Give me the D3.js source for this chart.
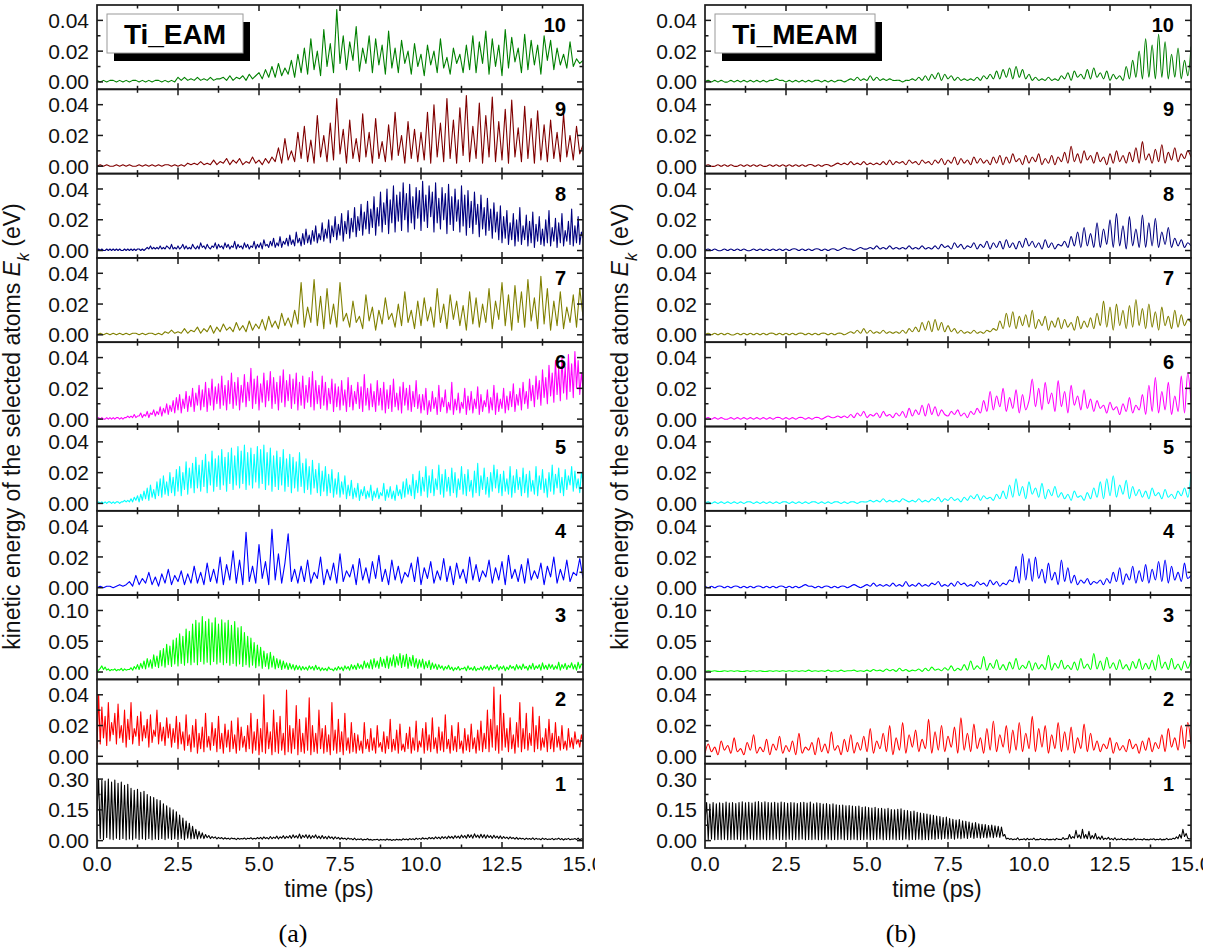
<!DOCTYPE html>
<html lang="en">
<head>
<meta charset="utf-8">
<title>Kinetic energy of selected atoms, Ti_EAM vs Ti_MEAM</title>
<script src="https://d3js.org/d3.v7.min.js"></script>
<style>
  body { margin: 0; background: #fff; }
  text { font-family: Arial, "Liberation Sans", sans-serif; }
</style>
</head>
<body>
<script>
// 151 values = 0.1 ps steps, 301 values = 0.05 ps steps (used for the dense traces)
var eam1 = [150,300,10,295,5,290,15,300,8,285, 5,295,12,280,6,285,10,270,4,275, 8,255,5,245,12,250,6,235,9,240, 5,225,10,215,4,210,8,200,6,195, 10,180,5,170,12,160,6,150,9,140, 6,125,10,110,5,95,12,85,8,70, 10,55,8,45,12,38,10,30,14,25, 10,20,12,18,8,16,10,15,7,14, 8,12,6,13,9,11,5,12,7,10, 8,13,6,12,9,14,7,11,8,15, 9,16,7,18,10,15,8,20,9,17, 11,22,8,19,12,24,10,21,13,25, 11,28,14,24,12,32,10,26,15,29, 12,27,10,24,14,28,11,22,9,25, 10,20,8,22,11,18,7,19,9,16, 6,14,8,12,5,13,7,10,4,12, 3,8,5,9,2,7,4,10,3,6, 2,5,4,7,1,6,3,5,2,8, 3,6,1,5,2,7,3,6,2,9, 4,8,3,10,5,9,4,12,6,11, 6,14,8,12,7,16,9,15,8,18, 10,17,8,20,11,19,9,22,12,21, 10,24,13,22,11,27,14,25,12,30, 15,28,12,33,16,27,13,31,14,29, 12,27,15,24,11,26,13,22,10,23, 9,20,11,17,8,18,10,15,7,16, 6,13,8,11,5,12,7,10,6,13, 5,11,7,9,4,12,6,10,5,8, 6,11,4,9,7,12,5,10,3,9, 6,11,4,8,7,10,5,12,4,9, 6];
var eam2 = [5,40,8,32,12,26,7,35,10,22, 14,28,8,34,12,20,9,30,6,24, 11,35,8,18,13,26,7,29,10,20, 12,24,6,27,9,17,13,30,8,22, 10,19,7,25,12,21,6,18,9,26, 5,22,8,16,4,27,7,14,3,20, 6,24,2,15,5,19,3,28,6,13, 4,22,7,18,3,26,5,15,2,21, 6,17,3,23,5,14,2,25,4,19, 6,13,3,20,5,28,2,16,4,24, 1,18,3,40,2,22,5,16,1,30, 3,22,2,26,4,15,1,43,3,20, 2,18,5,33,1,24,3,15,2,25, 4,38,1,20,3,15,2,30,5,18, 2,20,3,14,1,35,4,17,2,24, 3,16,1,28,4,12,2,22,3,15, 2,14,4,10,2,22,5,11,3,18, 4,12,2,20,6,9,3,16,2,13, 5,24,3,11,4,17,2,21,4,8, 3,15,5,19,2,12,4,23,3,10, 6,18,2,22,4,14,3,25,5,12, 2,19,4,16,3,27,5,11,2,20, 4,13,3,22,5,10,2,18,4,14, 3,21,5,12,2,17,4,23,3,15, 5,30,3,24,6,45,4,20,2,40, 4,28,6,18,3,25,5,14,2,22, 6,35,3,18,5,28,4,15,7,32, 3,20,5,26,4,12,6,18,3,24, 5,15,3,22,6,13,4,20,5,10, 4,18,6,12,5,16,8,11,6,14, 9];
var eam3 = [0,3,6,10,4,8,3,5,2,4, 3,5,2,4,3,6,2,5,3,4, 4,7,3,9,5,12,4,14,6,18, 5,22,8,20,6,28,9,26,7,35, 10,38,8,45,12,42,9,52,13,55, 10,62,14,58,11,70,15,66,12,78, 16,84,12,80,17,90,13,82,16,86, 12,80,17,88,13,78,16,85,12,80, 15,84,11,76,14,82,10,72,13,74, 9,64,12,58,8,55,11,48,7,44, 10,40,6,34,9,30,5,32,8,26, 5,22,7,20,4,18,6,15,4,14, 5,12,3,11,4,10,3,9,4,8, 3,10,5,9,3,11,4,8,2,7, 3,6,2,8,4,5,2,7,3,9, 4,8,2,10,5,9,3,12,5,11, 4,14,6,12,5,18,7,15,6,20, 5,22,8,18,6,24,9,21,7,26, 6,23,10,28,8,25,11,30,7,27, 9,29,6,24,10,27,8,22,6,20, 8,21,5,17,7,19,4,15,6,13, 4,12,6,10,3,9,5,11,4,8, 2,7,4,9,3,6,5,8,2,10, 4,7,3,9,2,6,4,8,3,10, 5,9,3,11,4,8,6,12,3,9, 5,10,2,8,4,11,6,9,3,12, 5,10,4,13,6,9,3,11,5,14, 4,10,6,12,3,15,5,11,4,13, 6,12,4,10,5,16,3,12,6,14, 4,11,7,15,5,12,3,16,6,13, 12];
var eam4 = [0,1,0,1,1,0,1,2,1,2, 4,1,8,2,6,3,10,2,7,1,9,3,12,2,8,4,11,2,9,3, 14,3,10,2,16,4,12,3,20,2,15,5,24,3,18,2,36,4,14,3,28,6,17,2,38,5,22,3,16,35,4,12,3, 14,4,18,3,10,6,20,2,12,5,16,3,22,4,11,7,15,2,19,5,13,3,17,6,21,4,12,2,18,5,14,3,10,7,16,4,20,2,13,6,17,3,11,5,19,4,14,2,16,6,12,3,20,5,15,4,11,7,18,3,13,5,17,2,21,6,12,4,15,3,19,5,11,6,16,2,14,7,20,3,12,5,18,4,10,8,19,6];
var eam5 = [0,1,0,1,0,1,0,1,1,0, 1,0,1,1,0,1,1,2,1,2, 1,3,1,4,2,5,1,6,2,8, 3,10,2,12,4,9,3,14,5,16, 4,18,6,14,5,20,7,17,5,22, 8,24,5,20,9,27,6,23,10,26, 7,30,10,25,8,28,11,32,7,27, 12,34,8,29,11,31,9,35,12,30, 8,33,13,36,9,31,12,37,10,34, 13,38,9,33,12,36,10,32,14,37, 10,35,13,38,9,33,12,36,8,31, 11,34,9,30,12,35,8,29,11,32, 7,30,10,27,8,33,11,26,7,29, 9,24,6,28,10,22,7,26,5,21, 8,24,5,19,7,22,4,16,6,20, 4,14,6,18,3,12,5,15,3,10, 4,13,2,9,5,11,3,8,4,12, 2,8,4,10,3,7,5,13,2,9, 4,11,3,8,2,12,5,9,3,14, 4,16,6,12,5,19,3,15,7,21, 5,17,8,24,4,18,7,22,5,16, 9,25,6,19,4,22,8,17,5,23, 7,20,4,16,9,24,6,19,5,22, 8,15,4,21,7,26,5,18,9,23, 6,17,4,20,8,25,10,22,7,19, 5,21,8,16,6,24,4,18,7,22, 9,17,5,23,7,19,4,21,8,15, 6,24,5,18,9,22,7,16,4,20, 8,25,6,19,10,23,7,17,5,22, 9,18,12,24,8,21,10,16,7,20, 14];
var eam6 = [0,1,0,1,0,0,1,0,1,0, 1,0,1,1,0,1,0,1,1,2, 1,2,1,3,1,2,2,4,1,3, 2,5,1,4,3,6,2,5,3,8, 2,7,4,10,3,9,5,12,4,14, 6,16,4,13,7,18,5,15,8,20, 5,17,9,22,6,19,8,24,5,20, 9,26,6,21,10,23,7,28,9,22, 6,25,10,30,7,24,9,27,6,22, 11,29,8,24,12,33,7,26,10,28, 6,23,11,30,8,25,12,31,7,27, 10,24,6,28,11,32,8,25,12,29, 7,26,10,30,6,24,9,28,7,22, 11,27,8,31,6,25,10,22,7,28, 9,24,6,20,10,26,5,23,8,21, 6,25,9,19,5,27,8,22,6,18, 10,24,7,21,5,29,9,20,6,23, 8,18,5,25,9,20,6,24,4,19, 7,22,5,26,8,17,6,21,4,24, 9,20,6,22,5,18,8,25,7,16, 4,16,6,20,3,12,5,18,7,14, 3,22,5,14,8,19,4,11,6,24, 3,13,6,17,4,11,7,20,3,15, 6,18,4,13,7,21,3,16,5,12, 8,19,4,14,6,22,3,17,5,13, 7,20,4,15,6,18,8,23,5,16, 9,20,6,24,10,18,7,26,12,22, 8,28,13,25,9,32,14,27,10,35, 15,30,11,38,16,33,12,40,17,34, 13,42,18,36,14,44,20,38,16,30, 20];
var eam7 = [0,1,0,1,0,1,0,1,0,1,0,1,1,0,1,0,1,1,0,1,0,2,1,3,1, 2,1,4,1,3,2,5,1,4,2,6,1,5,2,7,3,5,2,8,3,6,2,9,3,7, 4,10,3,12,5,9,4,14,6,11,5,16,7, 34,5,18,8,36,6,25,4,30,7,20,5,34,9, 14,5,22,8,12,4,26,9,18,3,16,7,24,10,14,5,20,6,28,8,16,4,22, 6,24,9,18,5,30,8,20,4,26,10,22,6,19,3,28,7,24,5,20, 8,30,4,22,10,34,6,26,3,32,8,28,5,36,9,24,4,38,7,30,3,22,6,28,4,18,8,26,5,30,12];
var eam8 = [0,1,0,1,0,0,1,0,1,0, 1,0,1,0,1,0,0,1,0,1, 0,1,0,1,0,1,1,0,1,0, 1,2,1,3,1,2,1,2,1,3, 1,2,1,3,2,1,4,1,2,1, 3,1,2,4,1,3,1,2,1,4, 2,1,3,1,5,2,3,1,4,2, 1,3,2,5,1,4,2,3,1,5, 2,4,1,3,2,6,1,4,2,3, 1,5,2,4,1,3,2,6,1,4, 2,5,1,7,3,4,2,6,3,8, 2,5,3,9,2,6,4,8,3,10, 4,7,3,12,5,8,3,11,4,14, 5,10,4,13,6,16,5,11,7,18, 6,14,8,20,5,16,9,22,7,17, 10,24,6,19,11,26,8,21,12,28, 9,22,13,30,10,25,14,32,11,27, 15,35,10,28,16,38,12,31,17,40, 11,33,18,42,12,36,19,38,13,44, 20,37,12,43,18,35,14,41,21,39, 13,45,19,36,15,42,22,38,12,44, 18,34,14,41,20,37,11,43,17,35, 13,40,19,33,12,42,16,36,10,39, 15,32,11,38,17,30,9,36,14,28, 10,34,13,27,8,31,12,25,7,29, 5,22,8,26,4,18,7,24,3,20, 6,28,4,16,7,23,3,19,5,25, 2,17,6,22,4,14,3,20,5,26, 3,15,6,21,2,18,5,24,3,13, 6,19,4,27,3,16,5,22,4,12, 8];
var eam9 = [0,1,0,1,0,0,1,0,1,0,1,0,0,1,0,1,0,1,0,1,0,1,1,0,1,0,1,0,2,1, 2,1,3,1,2,1,4,1,3,2,5,1,4,2,5,1,3,2,6,2,4,1,5,2,6, 3,12,2,18,4,10,3,22,5,26, 3,17,2,33,6,20,3,28,4,44,8,24,2,30,5,18,3,34,6,22,2,31,5,16,3,27,4,35,7,20,2,29,5,24,3, 22,4,35,2,40,6,28,3,44,5,30,2,38,7,46,3,26,5,41,2,33,6,45,3,29,4,37,2,43,6,25,3,39,5,31,2,36,4,27,3, 30,5,22,3,34,6,20,4,26,8,14];
var eam10 = [1,0,1,0,1,1,0,1,0,1,0,1,1,0,1,0,1,0,1,1,0,1,0,1,0, 3,1,3,1,2,1,3,1,2,1,3,1,2,2,3,1,4,1,3,2,4,1,5,2,4, 6,2,8,3,10,3,12,4,9,5,14,3,18,6,22, 5,28,8,20,4,34,10,25,6,47,12,30,8,26,14,36,7,22,12,30,6,28,11,24,5,33, 9,22,6,27,12,20,5,25,10,18,4,24,11,20,6,28,9,16,5,22,12,18,6,24,8, 30,6,26,12,33,5,28,10,24,4,34,9,29,13,22,6,31,8,27,11,24,5,30,14,27, 8,22,11,18,9,26,10,15,12,14];

var meam1 = [100,185,5,178,8,186,4,180,6,184, 5,182,7,188,4,183,6,185,5,181, 7,186,4,189,6,184,5,187,8,183, 4,188,6,190,5,185,7,189,4,186, 6,184,5,187,8,183,4,188,6,185, 5,182,7,186,4,184,6,181,5,185, 8,187,4,183,6,188,5,180,7,184, 4,182,6,178,5,181,7,176,4,179, 6,175,5,172,8,174,4,170,6,171, 5,168,7,166,4,169,6,163,5,165, 7,161,4,159,6,162,5,156,8,158, 4,154,6,157,5,152,7,150,4,153, 6,155,5,148,8,146,4,142,6,144, 5,138,7,135,4,132,6,130,5,126, 8,124,6,120,9,117,7,113,10,115, 8,108,11,104,7,100,12,103,9,96, 13,94,10,90,15,86,11,88,14,82, 12,80,16,78,13,74,17,76,14,72, 18,70,15,66,22,30,8,12,6,10, 4,8,5,14,3,7,5,9,3,11, 4,8,5,12,3,6,4,10,5,7, 3,9,4,6,5,8,3,11,6,7, 4,15,6,10,8,30,10,20,12,50, 14,28,10,55,12,30,9,45,8,25, 10,35,7,18,6,22,5,12,7,16, 5,10,4,14,3,8,5,11,4,7, 3,9,5,6,4,12,3,8,5,7, 3,10,4,6,3,8,5,9,3,7, 4,9,3,6,5,11,4,8,6,12, 8,18,10,30,12,55,20,35,12,8, 10];
var meam2 = [2,8,3,6,1,10,4,7,2,12,3,5,1,9,4,14,2,6,3,11,1,8,4,13,2,7,3,10,1,15,2,6,4,9,1,12,3,8,2,16,4,7,1,11,3,14,2,9,4,13, 3,18,2,10,5,15,3,20,1,12,4,22,2,14,6,17,3,11,5,24,2,16,4,20,3,13,6,19,2,25,4,15,3,21,5,12,2,18,4,23,3,14,6,20,2,17,4,22,3,15, 5,26,3,18,6,20,2,14,5,22,3,16,4,19,2,12,5,21,3,15, 4,10,3,8,5,12,2,9,4,7,3,11,5,8,2,10,4,12,3,9, 5,14,3,18,6,12,4,20,5,22,8];
var meam3 = [1,2,1,2,1,1,2,1,2,1,2,1,1,2,1,2,1,2,1,1,2,1,2,1,2,1,2,1,2,1,2,1,3,1,2,1,2,1,3,1,2,1,3,1,2,2,3,1,2,1, 3,1,4,2,3,1,5,2,4,1,6,2,4,1,3,2,5,1,6,2,8,3,5,2,7,3,10,2,6,3, 12,3,18,4,10,5,25,3,14,6,20,4,12,3,16,5,22,4,11,6,18,3,15,5,12,4,27,3,14,6,19,5,11,4,16,3,22,6,13,4,30,5,18,3,24,6,15,4,20,5,12,3,17,6,21,4,14,5,19,3,28,6,16,4,22,5,13,3,18,6,20];
var meam4 = [1,0,1,0,1,1,0,1,0,1,1,0,1,0,1,0,1,1,0,1,0,1,0,1,1,0,1,0,1,0,1,2,1,1,0,1,0,1,1,0,1,0,1,1,0,1,2,1,0,1, 2,1,3,1,2,1,2,1,3,1,2,1,4,1,2,1,3,1,2,1,3,2,4,1,2,1,3,1,4,2,3,1,2,1,4,2,3,1,5,2,4,1,3,2,5, 4,14,3,22,5,19,4,20,6,12,3,16,5,10,2,18,4,13,3,8, 2,5,3,6,2,4,3,5,2,6, 3,10,4,13,2,9,5,14,3,11,4,15,3,12,5,17,4,18,3,14,5,10,4,16,6,8];
var meam5 = [0,1,0,1,0,1,0,1,0,1,0,1,0,1,1,0,1,0,1,0,1,0,1,0,1,1,0,1,0,1,0,1,0,1,1,0,1,0,1,0,1,1,0,1,0,1,1,0,1,1, 1,2,1,2,1,3,1,2,1,2,1,3,2,1,2,1,3,1,2,1,3,2,4,1,3,2,4,2,3,1, 4,2,5,3,6,2,5,3,4,2,6,3,8, 3,12,4,16,5,11,3,14,6,10,4,13,3,9,5,11,4, 7,3,6,2,8,4,5,2,7,3, 10,4,14,3,16,5,18,4,12,6,15,3,11,5,9, 4,8,3,10,5,7,3,9,4,6,3,8,5,10,4,20];
var meam6 = [0,1,0,1,0,1,0,0,1,0,1,0,1,0,1,0,1,0,1,0,1,0,1,1,0,1,0,1,0,1,1,0,1,0,1,1,0,1,2,1,1,2,1, 2,1,3,1,4,2,5,1,3,2,4,1,5,2,3,1,4, 2,5,1,7,2,6,3,9,2,10,3,8,2,6,3, 2,5,3,6,2,4,1,5,3,7, 4,12,5,18,6,15,8,20,5,14,7,19,4,16,6, 12,26,8,20,6,24,10,17,5,25,8,18,4,22,9,15,6,19,7,13, 5,12,7,9,4,11,6,8,3,10,5,14,4,9,6, 16,3,22,5,27,4,18,6,24,3,15,5,28,4,30,12];
var meam7 = [0,1,0,1,0,1,0,1,0,0,1,0,1,0,1,0,1,0,1,0,1,1,0,1,0,1,0,1,0,1,1,0,1,0,1,0,1,1,0,1,0,1,1,0,1, 2,1,3,1,4,1,3,1,2,1,3,1,2,1,2,1,3,1,4,2, 5,2,8,3,9,2,10,3,8,2,6,2,4,1,3, 1,2,1,3,1,2,1,3,2,4, 3,9,4,14,5,15,4,12,6,13,5,16,4,10,6,12,3,9,5,11, 4,10,5,8,3,12,4,9,5,11, 4,14,6,22,5,18,3,20,6,16,4,19,5,23,6,17,4,20,5,15,3,18,6,12,4,16,5,13,6,10,8];
var meam8 = [0,1,0,1,0,0,1,0,1,0,1,0,1,0,0,1,0,1,0,1,0,1,0,1,0,1,0,1,1,0,1,0,1,0,1,1,0,1,0,1,1,0,1,2,1,1,0,1,2,1, 1,2,1,3,1,2,1,3,1,2,1,2,1,3,1,2,1,3,1,2, 1,3,1,4,2,3,1,5,2,4,1,3,2,5,1,4,2,6,1,5, 2,6,1,7,2,5,1,6,2,8,3,6,2,5,1,7,2,5,1,4, 3,6,2,9,3, 12,2,15,3,11,2,18,2,14,4,20,2,24,3,16,1,22,3,14,2,23,2,18,3,21,2,12,4,15,2, 8,3,7,2,5,3];
var meam9 = [0,1,0,0,1,0,1,0,1,0,0,1,0,1,0,1,0,1,0,0,1,0,1,0,1,0,1,0,1,0,1,0,1,1,0,1,0,1,1,0, 1,2,1,2,1,3,1,2,1,3,1,2,1,2,1,3,1,4,1,3,2,3,1,4,2,3,1,4,2,3, 1,4,2,5,1,4,2,6,1,5,2,4,1,6,2,5,2,4,1,6, 2,7,1,6,2,8,3,5,1,7,2,6,3,8,1,5,2,7,1,6, 3,9,2,13,3,8,2,10,4,7,2,9,3,6,1,8,2,10,3,7, 2,9,3,12,2,16,4,8,2,11,3,14,2,9,4,12,3,8,5,10,6];
var meam10 = [0,1,0,1,0,1,0,0,1,0,1,0,1,0,1,0,1,0,1,0,1,1,2,1,1,0,1,0,1,0,1,0,1,0,1,1,0,1,0,1,0,1,1,0,1, 2,1,3,1,2,1,4,1,3,1,2,1,2,1,1, 1,0,1,1,2,1,3,1,4,1,5,2,6,1,5,2,4,1,3,1, 2,1,2,1,3,1,4,2,5,2, 7,2,8,3,9,2,10,3,8,2, 5,1,3,1,2,1,3,1,2,1, 4,2,6,1,7,3,5,2,8,2,9,3,6,2,7,1,5,2,4,1, 10,2,14,3,20,2,28,3,24,2,31,3,26, 2,18,3,22,2,14,4,23];

var eamCurves = [eam1, eam2, eam3, eam4, eam5, eam6, eam7, eam8, eam9, eam10];
var meamCurves = [meam1, meam2, meam3, meam4, meam5, meam6, meam7, meam8, meam9, meam10];

// axis settings
var curveIds = [10, 9, 8, 7, 6, 5, 4, 3, 2, 1];          // top to bottom
var yMax = [0.30, 0.04, 0.10, 0.04, 0.04, 0.04, 0.04, 0.04, 0.04, 0.04]; // top tick, curve 1..10
var xTicks = [0, 2.5, 5, 7.5, 10, 12.5, 15];
var xMinor = [1.25, 3.75, 6.25, 8.75, 11.25, 13.75];
var tEnd = 15;
var panelNames = ["Ti_EAM", "Ti_MEAM"];
var panelTags = ["(a)", "(b)"];

var colors = ["#000000", "#ff0000", "#00ff00", "#0000ff", "#00ffff",
              "#ff00ff", "#808000", "#000080", "#800000", "#008000"];

var width = 1220, height = 951;
var plotTop = 5, plotBottom = 848;
var rowH = (plotBottom - plotTop) / curveIds.length;

var svg = d3.select("body").append("svg")
    .attr("width", width)
    .attr("height", height);

var panels = [
  { x0: 97, x1: 583, curves: eamCurves, boxW: 136, smooth: false },
  { x0: 705, x1: 1191, curves: meamCurves, boxW: 160, smooth: true }
];

var fmtY = d3.format(".2f"), fmtX = d3.format(".1f");
var frameColor = "#1a1a1a";

panels.forEach(function(p, pi) {
  var x = d3.scaleLinear().domain([0, tEnd]).range([p.x0, p.x1]);
  var g = svg.append("g");

  curveIds.forEach(function(id, r) {
    var top = plotTop + r * rowH, bot = top + rowH;
    var M = yMax[id - 1];
    var y = d3.scaleLinear().domain([-0.12 * M, 1.25 * M]).range([bot, top]);
    var clipId = "clip-" + pi + "-" + id;
    var vals = p.curves[id - 1];
    var dt = tEnd / (vals.length - 1);

    svg.append("clipPath").attr("id", clipId)
      .append("rect")
        .attr("x", p.x0).attr("y", top)
        .attr("width", p.x1 - p.x0).attr("height", rowH);

    var line = d3.line()
        .x(function(d, i) { return x(i * dt); })
        .y(function(d) { return y(d / 1000); });
    // MEAM traces oscillate smoothly; curve 1 keeps sharp spikes
    if (p.smooth && id !== 1) line.curve(d3.curveCatmullRom.alpha(0.5));

    g.append("path")
        .datum(vals)
        .attr("clip-path", "url(#" + clipId + ")")
        .attr("d", line)
        .attr("fill", "none")
        .attr("stroke", colors[id - 1])
        .attr("stroke-width", 1.1)
        .attr("stroke-linejoin", "round");

    // frame
    g.append("rect")
        .attr("x", p.x0).attr("y", top)
        .attr("width", p.x1 - p.x0).attr("height", rowH)
        .attr("fill", "none")
        .attr("stroke", frameColor)
        .attr("stroke-width", 1.7);

    // y ticks, inward on both sides
    var yMajor = [0, M / 2, M], yMin = [M / 4, 3 * M / 4];
    [[yMajor, 6], [yMin, 3.5]].forEach(function(t) {
      t[0].forEach(function(v) {
        g.append("line").attr("x1", p.x0).attr("x2", p.x0 + t[1])
          .attr("y1", y(v)).attr("y2", y(v))
          .attr("stroke", frameColor).attr("stroke-width", 1.5);
        g.append("line").attr("x1", p.x1 - t[1]).attr("x2", p.x1)
          .attr("y1", y(v)).attr("y2", y(v))
          .attr("stroke", frameColor).attr("stroke-width", 1.5);
      });
    });
    g.selectAll(null).data(yMajor).enter().append("text")
        .attr("x", p.x0 - 8)
        .attr("y", function(d) { return y(d); })
        .attr("dy", "0.36em")
        .attr("text-anchor", "end")
        .attr("font-size", 21)
        .attr("fill", "#111")
        .text(fmtY);

    // x ticks, inward at top and bottom of each strip
    [[xTicks, 6], [xMinor, 3.5]].forEach(function(t) {
      t[0].forEach(function(v) {
        if (v === 0 || v === tEnd) return;
        g.append("line").attr("x1", x(v)).attr("x2", x(v))
          .attr("y1", bot).attr("y2", bot - t[1])
          .attr("stroke", frameColor).attr("stroke-width", 1.5);
        g.append("line").attr("x1", x(v)).attr("x2", x(v))
          .attr("y1", top).attr("y2", top + t[1])
          .attr("stroke", frameColor).attr("stroke-width", 1.5);
      });
    });

    // curve number
    g.append("text")
        .attr("x", p.x1 - 17)
        .attr("y", top + 27)
        .attr("text-anchor", "end")
        .attr("font-size", 20)
        .attr("font-weight", "bold")
        .attr("fill", "#000")
        .text(id);
  });

  // x tick labels (the figure crops the last one)
  var labClip = "labclip-" + pi;
  svg.append("clipPath").attr("id", labClip)
    .append("rect").attr("x", p.x0 - 40).attr("y", plotBottom)
      .attr("width", p.x1 - p.x0 + 40 + 12).attr("height", 40);
  g.append("g").attr("clip-path", "url(#" + labClip + ")")
    .selectAll("text").data(xTicks).enter().append("text")
      .attr("x", function(d) { return x(d); })
      .attr("y", 871)
      .attr("text-anchor", "middle")
      .attr("font-size", 21)
      .attr("fill", "#111")
      .text(fmtX);

  g.append("text")
      .attr("x", p.x0 + 232)
      .attr("y", 897)
      .attr("text-anchor", "middle")
      .attr("font-size", 23)
      .attr("fill", "#111")
      .text("time (ps)");

  var yl = g.append("text")
      .attr("transform", "translate(" + (p.x0 - 77) + "," + ((plotTop + plotBottom) / 2) + ") rotate(-90)")
      .attr("text-anchor", "middle")
      .attr("font-size", 23)
      .attr("fill", "#111");
  yl.append("tspan").text("kinetic energy of the selected atoms ");
  yl.append("tspan").attr("font-style", "italic").text("E");
  yl.append("tspan").attr("font-style", "italic").attr("font-size", 16)
      .attr("baseline-shift", "sub").text("k");
  yl.append("tspan").text(" (eV)");

  // title box with drop shadow
  var bx = p.x0 + 10, by = 14, bh = 39;
  g.append("rect").attr("x", bx + 7).attr("y", by + 8)
      .attr("width", p.boxW).attr("height", bh).attr("fill", "#000");
  g.append("rect").attr("x", bx).attr("y", by)
      .attr("width", p.boxW).attr("height", bh)
      .attr("fill", "#fff").attr("stroke", "#9a9a9a").attr("stroke-width", 1);
  g.append("text")
      .attr("x", bx + p.boxW / 2).attr("y", by + 30)
      .attr("text-anchor", "middle")
      .attr("font-size", 28)
      .attr("font-weight", "bold")
      .attr("fill", "#000")
      .text(panelNames[pi]);

  g.append("text")
      .attr("x", p.x0 + 196)
      .attr("y", 942)
      .attr("text-anchor", "middle")
      .attr("font-size", 26)
      .style("font-family", "'Liberation Serif', 'Times New Roman', serif")
      .attr("fill", "#000")
      .text(panelTags[pi]);
});
</script>
</body>
</html>
